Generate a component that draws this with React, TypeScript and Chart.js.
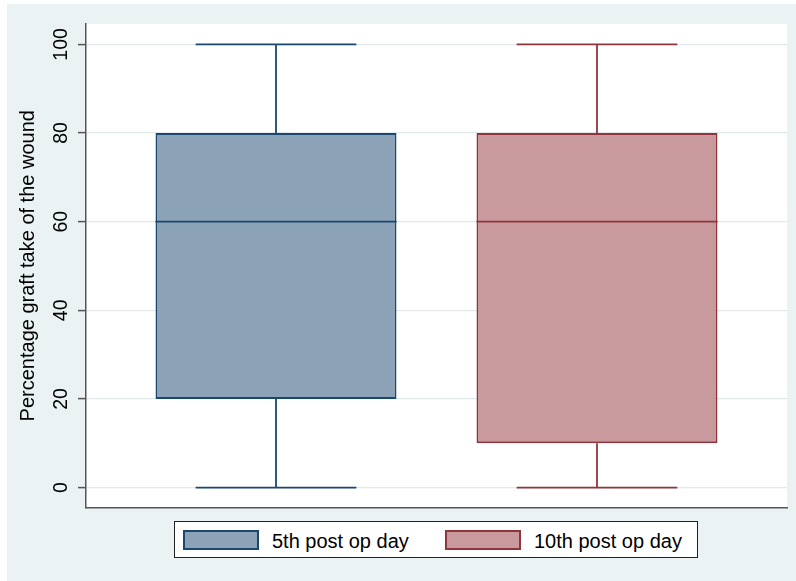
import React, { useEffect, useRef } from 'react';
import { Chart, registerables } from 'chart.js';

Chart.register(...registerables);

// Box-plot summary per group: whisker ends, quartiles and median.
const groups = ['5th post op day', '10th post op day'];
const whiskerLow = [0, 0];
const quartile1 = [20, 10];
const medians = [60, 60];
const quartile3 = [80, 80];
const whiskerHigh = [100, 100];
const yTicks = [0, 20, 40, 60, 80, 100];

const lineColors = ['#1A476F', '#90353B'];
const fillColors = ['#8CA3B7', '#C89A9D'];
const FONT = '"Liberation Sans", Arial, Helvetica, sans-serif';
const PANEL_BG = '#EAF2F3';
const AXIS_COLOR = '#555555';

// White plot region behind the grid.
const plotBackground = {
  id: 'plotBackground',
  beforeDraw(chart: any) {
    const { ctx, chartArea: a } = chart;
    ctx.save();
    ctx.fillStyle = '#FFFFFF';
    ctx.fillRect(a.left, a.top, a.right - a.left, a.bottom - a.top);
    ctx.restore();
  },
};

// Whiskers, caps and median lines drawn on top of the floating bars (the boxes).
const boxWhiskers = {
  id: 'boxWhiskers',
  afterDatasetsDraw(chart: any) {
    const yScale = chart.scales.y;
    const ctx = chart.ctx;
    const py = (v: number) => yScale.getPixelForValue(v);
    chart.data.datasets.forEach((_ds: any, i: number) => {
      const bar = chart.getDatasetMeta(i).data[0];
      if (!bar) return;
      const { x, width } = bar.getProps(['x', 'width'], true);
      const cap = (width * 2) / 3;
      ctx.save();
      ctx.strokeStyle = lineColors[i];
      ctx.lineWidth = 1.8;
      ctx.beginPath();
      ctx.moveTo(x, py(quartile3[i]));
      ctx.lineTo(x, py(whiskerHigh[i]));
      ctx.moveTo(x, py(quartile1[i]));
      ctx.lineTo(x, py(whiskerLow[i]));
      ctx.moveTo(x - cap / 2, py(whiskerHigh[i]));
      ctx.lineTo(x + cap / 2, py(whiskerHigh[i]));
      ctx.moveTo(x - cap / 2, py(whiskerLow[i]));
      ctx.lineTo(x + cap / 2, py(whiskerLow[i]));
      ctx.moveTo(x - width / 2, py(medians[i]));
      ctx.lineTo(x + width / 2, py(medians[i]));
      ctx.stroke();
      ctx.restore();
    });
  },
};

export default function App() {
  const canvasRef = useRef<HTMLCanvasElement>(null);

  useEffect(() => {
    const chart = new Chart(canvasRef.current as HTMLCanvasElement, {
      type: 'bar',
      data: {
        labels: [''],
        datasets: groups.map((label, i) => ({
          label,
          data: [[quartile1[i], quartile3[i]]] as any,
          backgroundColor: fillColors[i],
          borderColor: lineColors[i],
          borderWidth: 2,
          borderSkipped: false,
          categoryPercentage: 0.9158,
          barPercentage: 0.7508,
        })),
      },
      options: {
        animation: false,
        responsive: false,
        events: [],
        layout: { padding: { left: 0, top: 20, right: 9, bottom: 73.5 } },
        plugins: {
          legend: { display: false },
          tooltip: { enabled: false },
        },
        scales: {
          x: {
            type: 'category',
            grid: { display: false },
            ticks: { display: false },
            border: { display: true, color: AXIS_COLOR, width: 1.5 },
            afterFit: (s: any) => {
              s.height = 0;
            },
          },
          y: {
            min: -4.5,
            max: 104.6,
            afterBuildTicks: (s: any) => {
              s.ticks = yTicks.map((v) => ({ value: v }));
            },
            grid: {
              color: '#E1E9EB',
              lineWidth: 1.2,
              drawTicks: true,
              tickLength: 8,
              tickColor: AXIS_COLOR,
              tickWidth: 1.5,
            },
            border: { display: true, color: AXIS_COLOR, width: 1.5 },
            ticks: {
              minRotation: 90,
              maxRotation: 90,
              crossAlign: 'center',
              padding: 0,
              color: '#000000',
              font: { family: FONT, size: 19.5 },
            },
            title: {
              display: true,
              text: 'Percentage graft take of the wound',
              color: '#000000',
              font: { family: FONT, size: 20 },
              padding: { top: 9, bottom: 0 },
            },
            afterFit: (s: any) => {
              s.width = 79;
            },
          },
        },
      } as any,
      plugins: [plotBackground, boxWhiskers],
    });
    return () => chart.destroy();
  }, []);

  const swatchLeft = [8, 270];
  const textLeft = [97, 359];

  return (
    <div
      style={{
        position: 'fixed',
        left: 0,
        top: 0,
        width: 796,
        height: 581,
        background: '#FFFFFF',
        overflow: 'hidden',
      }}
    >
      <div
        style={{
          position: 'absolute',
          left: 7,
          top: 4,
          width: 789,
          height: 577,
          background: PANEL_BG,
        }}
      >
        <canvas
          ref={canvasRef}
          width={789}
          height={577}
          style={{ position: 'absolute', left: 0, top: 0, width: 789, height: 577 }}
        />
        <div
          style={{
            position: 'absolute',
            left: 167,
            top: 517,
            width: 524,
            height: 37,
            boxSizing: 'border-box',
            border: '1px solid #222222',
            background: '#FFFFFF',
            fontFamily: FONT,
            fontSize: 20,
            color: '#000000',
          }}
        >
          {groups.map((label, i) => (
            <React.Fragment key={label}>
              <div
                style={{
                  position: 'absolute',
                  left: swatchLeft[i],
                  top: 8,
                  width: 76,
                  height: 20,
                  boxSizing: 'border-box',
                  border: `2px solid ${lineColors[i]}`,
                  background: fillColors[i],
                }}
              />
              <div
                style={{
                  position: 'absolute',
                  left: textLeft[i],
                  top: 9,
                  lineHeight: '20px',
                  whiteSpace: 'nowrap',
                }}
              >
                {label}
              </div>
            </React.Fragment>
          ))}
        </div>
      </div>
    </div>
  );
}
